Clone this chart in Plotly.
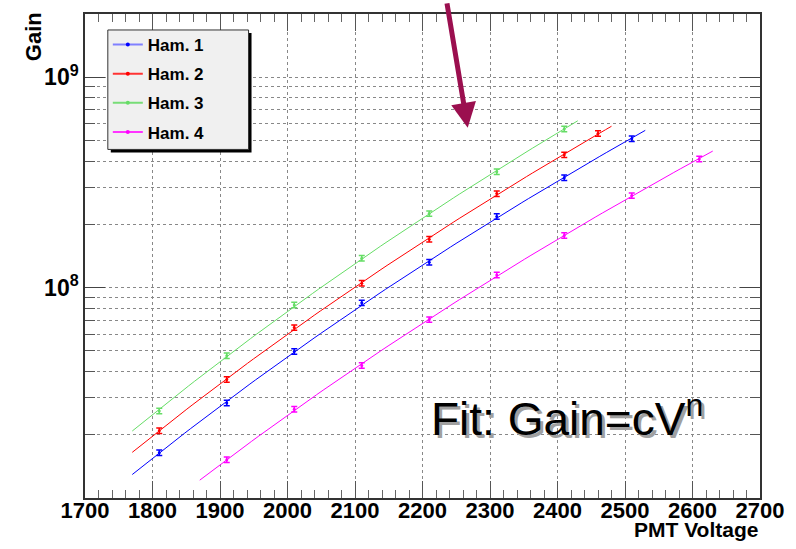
import numpy as np
import plotly.graph_objects as go

# ---- data ----
NAMES = ["Ham. 1", "Ham. 2", "Ham. 3", "Ham. 4"]
COLORS = ["#0000ff", "#ff0000", "#66dd66", "#ff00ff"]
LEGEND_COLORS = ["#8080ff", "#ff3333", "#77dd77", "#ff33ff"]

VOLT_1 = [1810, 1910, 2010, 2110, 2210, 2310, 2410, 2510]
GAIN_1 = [1.64e7, 2.83e7, 4.97e7, 8.47e7, 1.32e8, 2.18e8, 3.33e8, 5.11e8]

VOLT_2 = [1810, 1910, 2010, 2110, 2210, 2310, 2410, 2460]
GAIN_2 = [2.09e7, 3.66e7, 6.46e7, 1.05e8, 1.70e8, 2.80e8, 4.28e8, 5.41e8]

VOLT_3 = [1810, 1910, 2010, 2110, 2210, 2310, 2410]
GAIN_3 = [2.59e7, 4.75e7, 8.28e7, 1.38e8, 2.25e8, 3.56e8, 5.68e8]

VOLT_4 = [1910, 2010, 2110, 2210, 2310, 2410, 2510, 2610]
GAIN_4 = [1.52e7, 2.64e7, 4.27e7, 7.05e7, 1.15e8, 1.77e8, 2.74e8, 4.09e8]

ERR_PCT = 3.0  # relative error bar size, percent

# fit range of each power-law fit (voltage)
FIT_LO = [1770, 1770, 1770, 1870]
FIT_HI = [2530, 2480, 2430, 2630]

X_TICKS = list(range(1700, 2701, 100))
Y_MAJOR = [1e8, 1e9]
Y_MAJOR_TEXT = ["10<sup>8</sup>", "10<sup>9</sup>"]
Y_MINOR = [m * 10 ** e for e in (7, 8) for m in range(2, 10)] + [1e7, 2e9]

VOLTS = [VOLT_1, VOLT_2, VOLT_3, VOLT_4]
GAINS = [GAIN_1, GAIN_2, GAIN_3, GAIN_4]

FONT = "Liberation Sans, Arial, Helvetica, sans-serif"

fig = go.Figure()

for i in range(4):
    v = np.array(VOLTS[i], dtype=float)
    g = np.array(GAINS[i], dtype=float)
    # power-law fit Gain = c * V^n  (linear in log-log)
    n, logc = np.polyfit(np.log10(v), np.log10(g), 1)
    vf = np.linspace(FIT_LO[i], FIT_HI[i], 80)
    gf = 10 ** (logc + n * np.log10(vf))
    fig.add_trace(go.Scatter(x=vf, y=gf, mode="lines",
                             line=dict(color=COLORS[i], width=1),
                             showlegend=False, hoverinfo="skip"))
    fig.add_trace(go.Scatter(x=v, y=g, mode="markers",
                             marker=dict(color=COLORS[i], size=3),
                             error_y=dict(type="percent", value=ERR_PCT,
                                          color=COLORS[i], thickness=1.5, width=3),
                             showlegend=False))
    # legend entry (line + marker)
    fig.add_trace(go.Scatter(x=[None], y=[None], mode="lines+markers",
                             name=NAMES[i], legendgroup=NAMES[i],
                             line=dict(color=LEGEND_COLORS[i], width=2),
                             marker=dict(color=COLORS[i], size=4)))

grid = dict(showgrid=True, griddash="dot", gridcolor="#888", gridwidth=1)

# legend frame (box + drop shadow), paper coordinates
LX0, LX1, LY0, LY1 = 0.0338, 0.2423, 0.7202, 0.967
SX, SY = 3 / 681, 3 / 486

fig.update_layout(
    width=796, height=549,
    margin=dict(l=85, r=30, t=12, b=51),
    plot_bgcolor="white", paper_bgcolor="white",
    font=dict(family=FONT, color="black"),
    xaxis=dict(range=[1700, 2700], tickvals=X_TICKS, ticks="inside",
               ticklen=17, tickcolor="#555", tickwidth=1,
               showline=True, linecolor="#333", linewidth=1.5, mirror="ticks",
               zeroline=False, ticklabelstandoff=-8,
               tickfont=dict(size=22, family=FONT, weight="bold"),
               minor=dict(dtick=20, tick0=1700, ticklen=8, ticks="inside",
                          tickcolor="#666", showgrid=False),
               **grid),
    yaxis=dict(type="log", range=[7, np.log10(2e9)],
               tickvals=Y_MAJOR, ticktext=Y_MAJOR_TEXT, ticks="inside",
               ticklen=20, tickcolor="#444", tickwidth=1,
               showline=True, linecolor="#333", linewidth=1.5, mirror="ticks",
               zeroline=False,
               tickfont=dict(size=23, family=FONT, weight="bold"),
               minor=dict(tickvals=Y_MINOR, ticklen=10, ticks="inside",
                          tickcolor="#555", showgrid=True, griddash="dot",
                          gridcolor="#888"),
               **grid),
    legend=dict(x=0.0338, y=0.973, xanchor="left", yanchor="top",
                bgcolor="rgba(0,0,0,0)", borderwidth=0,
                font=dict(family=FONT, size=17, weight="bold"),
                tracegroupgap=4, itemwidth=30),
    shapes=[
        dict(type="rect", xref="paper", yref="paper", layer="above",
             x0=LX0 + SX, x1=LX1 + SX, y0=LY0 - SY, y1=LY1 - SY,
             fillcolor="black", line=dict(width=0)),
        dict(type="rect", xref="paper", yref="paper", layer="above",
             x0=LX0, x1=LX1, y0=LY0, y1=LY1,
             fillcolor="#f0f0f0", line=dict(color="#333", width=1)),
    ],
    annotations=[
        dict(text="<b>Gain</b>", xref="paper", yref="paper",
             x=-0.0764, y=0.953, xanchor="center", yanchor="middle",
             textangle=-90, showarrow=False,
             font=dict(size=22, family=FONT)),
        dict(text="<b>PMT Voltage</b>", xref="paper", yref="paper",
             x=1.0, y=-0.066, xanchor="right", yanchor="middle",
             showarrow=False, font=dict(size=21, family=FONT)),
        dict(text="Fit: Gain=cV<sup>n</sup>", xref="x", yref="y",
             x=2210, y=7.392, xanchor="left", yanchor="middle",
             xshift=3, yshift=-3, showarrow=False,
             font=dict(size=46, family=FONT, color="#a0a0a0")),
        dict(text="Fit: Gain=cV<sup>n</sup>", xref="x", yref="y",
             x=2210, y=7.392, xanchor="left", yanchor="middle",
             showarrow=False, font=dict(size=46, family=FONT, color="black")),
        dict(text="", xref="x", yref="y", x=2267, y=8.76,
             ax=-21, ay=-126, showarrow=True, arrowhead=2, arrowsize=1,
             arrowwidth=5, arrowcolor="#9b0f4f"),
    ],
)

fig.write_html("out.html")
